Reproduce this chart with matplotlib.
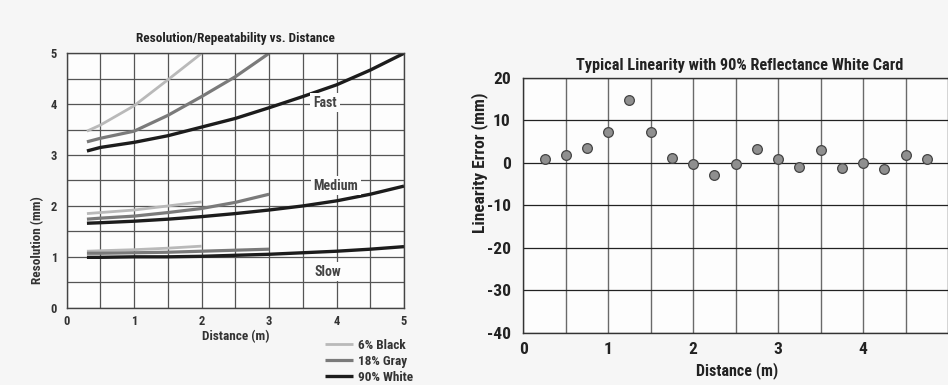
import matplotlib
matplotlib.use('Agg')
import matplotlib.pyplot as plt
from matplotlib import font_manager

# the scan uses a condensed sans; take the first narrow family we can find
names = {f.name for f in font_manager.fontManager.ttflist}
NARROW = None
for cand in ['Roboto Condensed', 'Archivo Narrow', 'Liberation Sans Narrow',
             'PT Sans Narrow', 'Barlow Semi Condensed', 'Asap Condensed']:
    if cand in names:
        NARROW = cand
        break
FAM = [NARROW, 'DejaVu Sans'] if NARROW else ['Liberation Sans', 'DejaVu Sans']
plt.rcParams['font.family'] = FAM
plt.rcParams['axes.unicode_minus'] = False

# resolution vs distance (left chart)
dist_black = [0.3, 0.5, 1.0, 1.5, 2.0]
dist_gray = [0.3, 0.5, 1.0, 1.5, 2.0, 2.5, 3.0]
dist_white = [0.3, 0.5, 1.0, 1.5, 2.0, 2.5, 3.0, 3.5, 4.0, 4.5, 5.0]

fast_black = [3.47, 3.59, 3.97, 4.48, 5.0]
fast_gray = [3.26, 3.33, 3.47, 3.78, 4.15, 4.54, 5.0]
fast_white = [3.08, 3.15, 3.25, 3.38, 3.55, 3.72, 3.93, 4.15, 4.38, 4.67, 5.0]

medium_black = [1.85, 1.87, 1.92, 2.0, 2.08]
medium_gray = [1.74, 1.76, 1.80, 1.87, 1.95, 2.07, 2.23]
medium_white = [1.66, 1.67, 1.70, 1.74, 1.79, 1.85, 1.92, 2.0, 2.10, 2.23, 2.39]

slow_black = [1.11, 1.12, 1.14, 1.17, 1.21]
slow_gray = [1.07, 1.07, 1.08, 1.09, 1.11, 1.13, 1.15]
slow_white = [0.99, 0.99, 1.0, 1.0, 1.01, 1.03, 1.05, 1.08, 1.11, 1.15, 1.20]

speed_labels = ['Fast', 'Medium', 'Slow']
legend_labels = ['6% Black', '18% Gray', '90% White']

# linearity (right chart)
lin_dist = [0.25, 0.5, 0.75, 1.0, 1.25, 1.5, 1.75, 2.0, 2.25, 2.5,
            2.75, 3.0, 3.25, 3.5, 3.75, 4.0, 4.25, 4.5, 4.75]
lin_error = [0.8, 1.9, 3.4, 7.2, 14.7, 7.2, 1.0, -0.4, -2.8, -0.3,
             3.2, 0.8, -1.1, 3.0, -1.2, 0.0, -1.5, 1.8, 0.9]

fig = plt.figure(figsize=(9.48, 3.85), dpi=100, facecolor='#f6f6f6')

# ---- left
ax = fig.add_axes([66.7 / 948, 1 - 307.7 / 385, 337.3 / 948, 254.4 / 385])
ax.set_facecolor('#fdfdfd')
ax.set_xlim(0, 5)
ax.set_ylim(0, 5)
ax.set_xticks([0, 0.5, 1, 1.5, 2, 2.5, 3, 3.5, 4, 4.5, 5])
ax.set_yticks([0, 0.5, 1, 1.5, 2, 2.5, 3, 3.5, 4, 4.5, 5])
ax.set_xticklabels(['0', '', '1', '', '2', '', '3', '', '4', '', '5'])
ax.set_yticklabels(['0', '', '1', '', '2', '', '3', '', '4', '', '5'])
ax.tick_params(length=0, labelsize=9, colors='#333333')
ax.tick_params(axis='y', pad=7)
ax.tick_params(axis='x', pad=5)
for lab in ax.get_xticklabels() + ax.get_yticklabels():
    lab.set_fontweight('bold')
ax.grid(True, color='#555555', lw=0.9)
for s in ax.spines.values():
    s.set_color('#444444')
    s.set_linewidth(1.0)

black_style = dict(color='#b9b9b9', lw=2.0, solid_capstyle='butt')
gray_style = dict(color='#7a7a7a', lw=2.3, solid_capstyle='butt')
white_style = dict(color='#1c1c1c', lw=2.4, solid_capstyle='butt')

h_black, = ax.plot(dist_black, fast_black, **black_style)
h_gray, = ax.plot(dist_gray, fast_gray, **gray_style)
h_white, = ax.plot(dist_white, fast_white, **white_style)
ax.plot(dist_black, medium_black, **black_style)
ax.plot(dist_gray, medium_gray, **gray_style)
ax.plot(dist_white, medium_white, **white_style)
ax.plot(dist_black, slow_black, **black_style)
ax.plot(dist_gray, slow_gray, **gray_style)
ax.plot(dist_white, slow_white, **white_style)

label_pos = [(3.83, 4.03), (3.99, 2.40), (3.87, 0.71)]
for txt, (lx, ly) in zip(speed_labels, label_pos):
    ax.text(lx, ly, txt, ha='center', va='center', fontsize=10,
            fontweight='bold', color='#444444',
            bbox=dict(facecolor='#fdfdfd', edgecolor='none', pad=2))

ax.text(0.5, 1.057, 'Resolution/Repeatability vs. Distance', transform=ax.transAxes,
        ha='center', va='center', fontsize=9.5, fontweight='bold', color='#222222')
ax.set_xlabel('Distance (m)', fontsize=9.5, fontweight='bold', color='#333333')
ax.set_ylabel('Resolution (mm)', fontsize=9.5, fontweight='bold', color='#333333')
ax.xaxis.set_label_coords(0.5, -0.114)
ax.yaxis.set_label_coords(-0.087, 0.266)
ax.xaxis.label.set_va('center')
ax.yaxis.label.set_va('center')

fig.legend([h_black, h_gray, h_white], legend_labels, loc='upper left',
           bbox_to_anchor=(325 / 948, 1 - 339 / 385), frameon=False,
           handlelength=2.1, handletextpad=0.4,
           labelspacing=0.22, borderpad=0, borderaxespad=0,
           labelcolor='#333333',
           prop=dict(family=FAM, weight='bold', size=9.5))

# ---- right
ax2 = fig.add_axes([523.3 / 948, 1 - 332.7 / 385, (948 - 523.3) / 948, 255 / 385])
ax2.set_facecolor('#fdfdfd')
ax2.set_xlim(0, 5)
ax2.set_ylim(-40, 20)
ax2.set_xticks([0, 0.5, 1, 1.5, 2, 2.5, 3, 3.5, 4, 4.5])
ax2.set_xticklabels(['0', '', '1', '', '2', '', '3', '', '4', ''])
ax2.set_yticks([-40, -30, -20, -10, 0, 10, 20])
ax2.tick_params(length=0, labelsize=12.5, colors='#222222')
ax2.tick_params(axis='y', pad=9)
ax2.tick_params(axis='x', pad=7)
for lab in ax2.get_xticklabels() + ax2.get_yticklabels():
    lab.set_fontweight('bold')
ax2.grid(True, axis='x', color='#6a6a6a', lw=1.0)
ax2.grid(True, axis='y', color='#222222', lw=0.9)
ax2.set_axisbelow(True)
for s in ax2.spines.values():
    s.set_color('#333333')
    s.set_linewidth(1.0)

ax2.plot(lin_dist, lin_error, 'o', ms=7, mfc='#8f8f8f', mec='#444444',
         mew=0.9, clip_on=False, zorder=3)

ax2.text(0.509, 1.046, 'Typical Linearity with 90% Reflectance White Card',
         transform=ax2.transAxes, ha='center', va='center', fontsize=11.7,
         fontweight='bold', color='#222222')
ax2.set_xlabel('Distance (m)', fontsize=11.6, fontweight='bold', color='#222222')
ax2.set_ylabel('Linearity Error (mm)', fontsize=12.5, fontweight='bold',
               color='#222222')
ax2.xaxis.set_label_coords(0.5025, -0.149)
ax2.yaxis.set_label_coords(-0.103, 0.667)
ax2.xaxis.label.set_va('center')
ax2.yaxis.label.set_va('center')

fig.savefig('out.png', dpi=100, facecolor=fig.get_facecolor())
